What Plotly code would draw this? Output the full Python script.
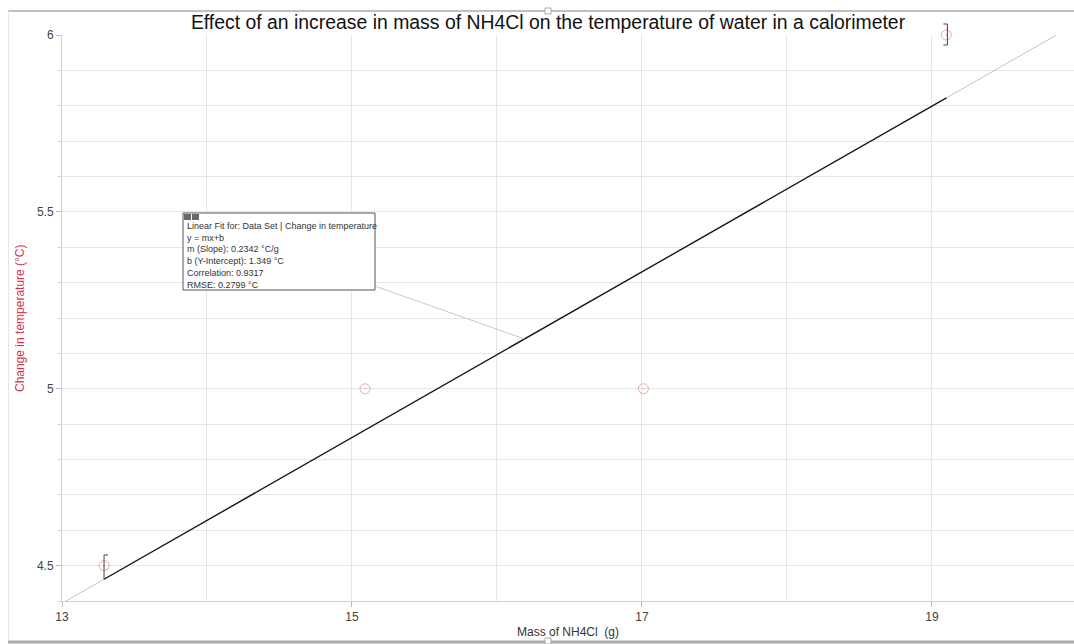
import plotly.graph_objects as go

# Data
mass = [13.29, 15.09, 17.01, 19.10]
temp_change = [4.5, 5.0, 5.0, 6.0]
slope = 0.2342
intercept = 1.349
fit_lines = [
    "Linear Fit for: Data Set | Change in temperature",
    "y = mx+b",
    "m (Slope): 0.2342 °C/g",
    "b (Y-Intercept): 1.349 °C",
    "Correlation: 0.9317",
    "RMSE: 0.2799 °C",
]
x_range = [13, 19.98]
y_range = [4.4, 6.0]
x_ticks = [13, 15, 17, 19]
y_ticks = [4.5, 5.0, 5.5, 6.0]

W, H = 1074, 644
ML, MR, MT, MB = 62, 0, 35, 43
PW, PH = W - ML - MR, H - MT - MB
FONT = "Liberation Sans, Arial, sans-serif"

def px_to_paper_x(px):
    return (px - ML) / PW

def px_to_paper_y(py):
    return (H - MB - py) / PH

def fit(x):
    return slope * x + intercept

def dom_x(x):
    return (x - x_range[0]) / (x_range[1] - x_range[0])

def dom_y(y):
    return (y - y_range[0]) / (y_range[1] - y_range[0])

fig = go.Figure()

# extended fit line (gray)
fig.add_trace(go.Scatter(x=x_range, y=[fit(v) for v in x_range], mode="lines",
                         line=dict(color="#c4c4c4", width=1), hoverinfo="skip", showlegend=False))
# fit over data range (black)
fig.add_trace(go.Scatter(x=[mass[0], mass[-1]], y=[fit(mass[0]), fit(mass[-1])], mode="lines",
                         line=dict(color="#1a1a1a", width=1.4), hoverinfo="skip", showlegend=False))
# data points
fig.add_trace(go.Scatter(x=mass, y=temp_change, mode="markers",
                         marker=dict(symbol="circle-open-dot", size=10,
                                     color="rgba(225,90,90,0.5)", line=dict(width=1)),
                         cliponaxis=False, showlegend=False))

shapes = []
# left bracket "[" at first point
bx0 = dom_x(mass[0])
shapes.append(dict(type="line", xref="x domain", yref="y domain",
                   x0=bx0, x1=bx0, y0=dom_y(fit(mass[0])), y1=dom_y(temp_change[0] + 0.03),
                   line=dict(color="#444", width=1)))
shapes.append(dict(type="line", xref="x domain", yref="y domain",
                   x0=bx0, x1=bx0 + 4 / PW, y0=dom_y(temp_change[0] + 0.03), y1=dom_y(temp_change[0] + 0.03),
                   line=dict(color="#444", width=1)))
# right bracket "]" at last point
bx1 = dom_x(mass[-1]) + 1 / PW
yt = dom_y(temp_change[-1]) + 11 / PH
yb = dom_y(temp_change[-1]) - 10 / PH
shapes.append(dict(type="line", xref="x domain", yref="y domain",
                   x0=bx1, x1=bx1, y0=yb, y1=yt, line=dict(color="#444", width=1)))
for yy in (yt, yb):
    shapes.append(dict(type="line", xref="x domain", yref="y domain",
                       x0=bx1 - 4 / PW, x1=bx1, y0=yy, y1=yy, line=dict(color="#444", width=1)))

# connector from fit box to line
conn_x = 16.19
shapes.append(dict(type="line", xref="x", yref="y", x0=15.16, y0=5.29, x1=conn_x, y1=fit(conn_x),
                   line=dict(color="#c8c8c8", width=1)))
# fit box
shapes.append(dict(type="rect", xref="paper", yref="paper",
                   x0=px_to_paper_x(183), x1=px_to_paper_x(375),
                   y0=px_to_paper_y(290), y1=px_to_paper_y(213),
                   fillcolor="white", line=dict(color="#555", width=1), layer="above"))
# little icons in the fit box
for i in range(2):
    x0p = 184 + i * 8
    shapes.append(dict(type="rect", xref="paper", yref="paper",
                       x0=px_to_paper_x(x0p), x1=px_to_paper_x(x0p + 7),
                       y0=px_to_paper_y(220), y1=px_to_paper_y(214),
                       fillcolor="#6a6a6a", line=dict(width=0), layer="above"))

# window frame
frame = "#bfbfbf"
shapes.append(dict(type="line", xref="paper", yref="paper", x0=px_to_paper_x(8), x1=px_to_paper_x(1074),
                   y0=px_to_paper_y(11), y1=px_to_paper_y(11), line=dict(color=frame, width=2)))
shapes.append(dict(type="line", xref="paper", yref="paper", x0=px_to_paper_x(8.5), x1=px_to_paper_x(8.5),
                   y0=px_to_paper_y(11), y1=px_to_paper_y(642), line=dict(color="#e6e6e6", width=1)))
shapes.append(dict(type="line", xref="paper", yref="paper", x0=px_to_paper_x(8), x1=px_to_paper_x(1074),
                   y0=px_to_paper_y(642), y1=px_to_paper_y(642), line=dict(color="#aaaaaa", width=3)))
for cy in (11, 641):
    shapes.append(dict(type="rect", xref="paper", yref="paper",
                       x0=px_to_paper_x(545), x1=px_to_paper_x(551),
                       y0=px_to_paper_y(cy + 3), y1=px_to_paper_y(cy - 3),
                       fillcolor="white", line=dict(color="#aaaaaa", width=1)))

annotations = [
    dict(x=px_to_paper_x(185), y=px_to_paper_y(255.5), xref="paper", yref="paper",
         xanchor="left", yanchor="middle",
         text="<br>".join(fit_lines), showarrow=False, align="left",
         font=dict(family=FONT, size=9, color="#333")),
    dict(x=px_to_paper_x(20), y=0.5, xref="paper", yref="paper", text="Change in temperature (°C)",
         textangle=-90, showarrow=False, xanchor="center", yanchor="middle",
         font=dict(family=FONT, size=12, color="#d0344c")),
    dict(x=0.5, y=px_to_paper_y(632), xref="paper", yref="paper", text="Mass of NH4Cl  (g)",
         showarrow=False, xanchor="center", yanchor="middle",
         font=dict(family=FONT, size=12, color="#333")),
]

grid = "#e6e6e6"
fig.update_layout(
    width=W, height=H, autosize=False,
    margin=dict(l=ML, r=MR, t=MT, b=MB),
    paper_bgcolor="white", plot_bgcolor="white",
    title=dict(text="Effect of an increase in mass of NH4Cl on the temperature of water in a calorimeter",
               x=px_to_paper_x(548), xref="paper", y=(H - 22) / H, yref="container",
               xanchor="center", yanchor="middle",
               font=dict(family=FONT, size=19.4, color="#111")),
    xaxis=dict(range=x_range, tickvals=x_ticks, ticks="outside", ticklen=5, tickcolor="#bbb",
               showgrid=True, gridcolor=grid, zeroline=False,
               showline=True, linecolor="#d0d0d0",
               minor=dict(dtick=1, tick0=13, showgrid=True, gridcolor=grid),
               tickfont=dict(family=FONT, size=12, color="#444")),
    yaxis=dict(range=y_range, tickvals=y_ticks, ticktext=["4.5", "5", "5.5", "6"],
               ticks="outside", ticklen=5, tickcolor="#bbb",
               showgrid=True, gridcolor=grid, zeroline=False,
               showline=True, linecolor="#d0d0d0",
               minor=dict(dtick=0.1, tick0=4.4, showgrid=True, gridcolor=grid,
                          ticks="outside", ticklen=3, tickcolor="#ccc"),
               tickfont=dict(family=FONT, size=12, color="#444")),
    shapes=shapes, annotations=annotations,
)

fig.write_html("out.html", config={"displayModeBar": False},
               post_script="document.body.style.margin='0';document.body.style.overflow='hidden';")
